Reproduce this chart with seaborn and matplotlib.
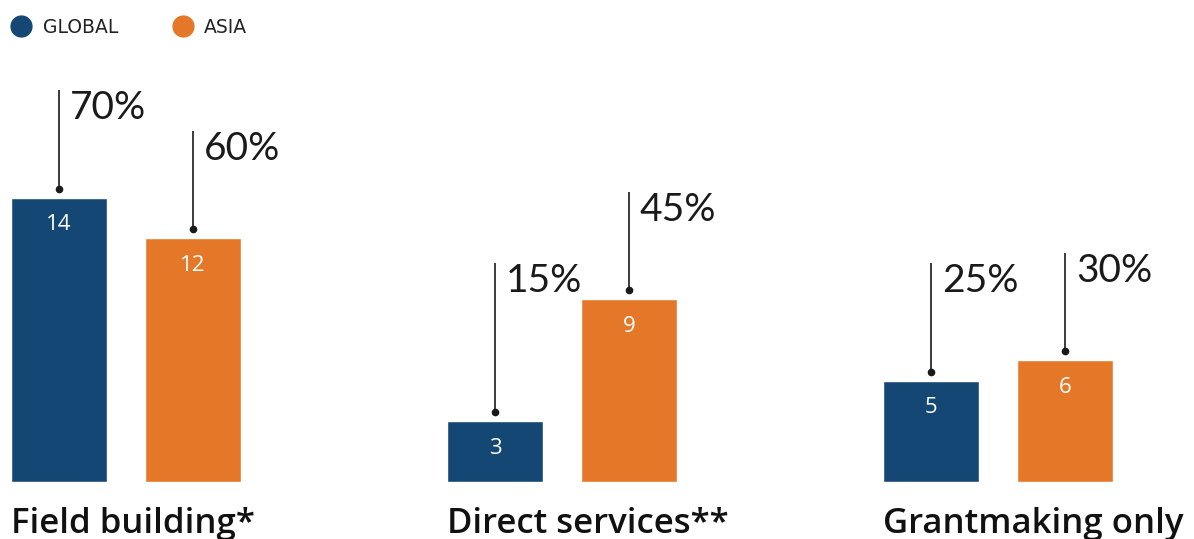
import numpy as np
import matplotlib
matplotlib.use("Agg")
import matplotlib.pyplot as plt
import matplotlib.transforms as mtransforms
from matplotlib.lines import Line2D
import pandas as pd
import seaborn as sns

# data
categories = ["Field building*", "Direct services**", "Grantmaking only"]
regions = ["GLOBAL", "ASIA"]
global_counts = [14, 3, 5]
asia_counts = [12, 9, 6]
global_pct = [70, 15, 25]
asia_pct = [60, 45, 30]

blue = "#154775"
orange = "#E47828"

df = pd.DataFrame({
    "category": categories * 2,
    "region": ["GLOBAL"] * 3 + ["ASIA"] * 3,
    "count": global_counts + asia_counts,
    "pct": global_pct + asia_pct,
})

sns.set_style("white")
plt.rcParams["font.family"] = ["Lato", "DejaVu Sans"]

fig = plt.figure(figsize=(11.94, 5.39), dpi=100)
ax = fig.add_axes([0, 57 / 539, 1, 412 / 539])

sns.barplot(data=df, x="category", y="count", hue="region", hue_order=regions,
            palette=[blue, orange], width=0.615, gap=0.284, legend=False,
            saturation=1, ax=ax)

ax.set_xlim(-0.289, 2.45)
ax.set_ylim(0, 20.3)
ax.set_xlabel("")
ax.set_ylabel("")
ax.set_xticks([])
ax.set_yticks([])
sns.despine(ax=ax, left=True, bottom=True)

# bars come in hue order: all GLOBAL, then all ASIA
labels = df["count"].tolist()
pcts = df["pct"].tolist()
px = 412 / 20.3  # pixels per unit
for bar, n, p in zip(ax.patches, labels, pcts):
    cx = bar.get_x() + bar.get_width() / 2
    h = bar.get_height()
    # count inside the bar
    ax.text(cx, h - 27 / px, str(n), color="white", ha="center", va="center",
            fontsize=16, family="Open Sans", zorder=5)
    # leader line with a dot and the share above it
    y0 = h + 9 / px
    y1 = max(h + 5.3, 10.8)
    ax.plot([cx, cx], [y0, y1], color="#1a1a1a", lw=1.2, solid_capstyle="butt")
    ax.plot(cx, y0, "o", color="#1a1a1a", ms=4.5)
    off = mtransforms.offset_copy(ax.transData, fig=fig, x=11, y=0, units="dots")
    ax.text(cx, y1, f"{p}%", transform=off, ha="left", va="top",
            fontsize=28, color="#1a1a1a")

# category labels, left aligned to the first bar of each group
trans = mtransforms.blended_transform_factory(ax.transData, ax.transAxes)
trans = trans + mtransforms.ScaledTranslation(0, -51 / 100, fig.dpi_scale_trans)
for bar, cat in zip(ax.patches[:3], categories):
    ax.text(bar.get_x(), 0, cat, transform=trans, ha="left", va="baseline",
            fontsize=25, color="#111111", clip_on=False,
            family="Open Sans", fontweight="semibold")

handles = [Line2D([], [], marker="o", ls="", color=blue, ms=15),
           Line2D([], [], marker="o", ls="", color=orange, ms=15)]
leg = fig.legend(handles, regions, loc="upper left",
                 bbox_to_anchor=(10.7 / 1194, 1 - 18 / 539),
                 ncol=2, frameon=False, handletextpad=0.6,
                 columnspacing=2.9, borderaxespad=0, borderpad=0,
                 handlelength=1.1,
                 prop={"family": "DejaVu Sans", "size": 13.5})
for t in leg.get_texts():
    t.set_color("#222222")

fig.savefig("out.png", dpi=100)
